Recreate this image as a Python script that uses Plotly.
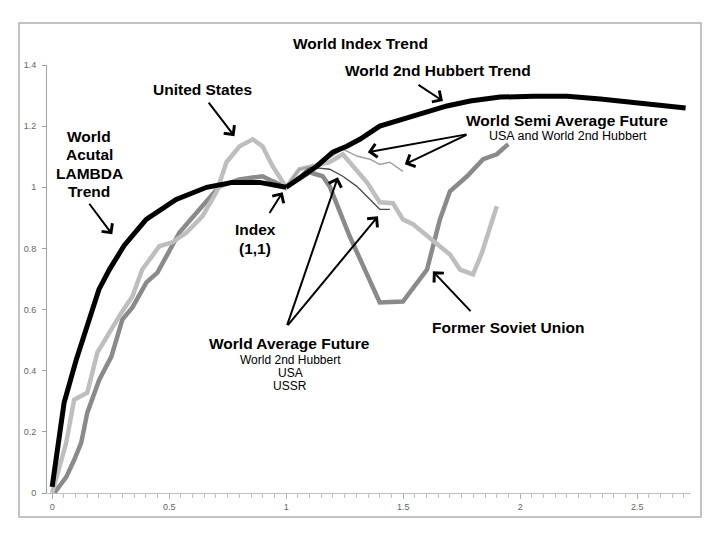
import plotly.graph_objects as go

# ---- data ----
lambda_x = [0.0, 0.051, 0.103, 0.15, 0.2, 0.244, 0.308, 0.402, 0.53, 0.66, 0.77, 0.886, 1.0]
lambda_y = [0.02, 0.295, 0.436, 0.545, 0.666, 0.73, 0.81, 0.895, 0.96, 1.0, 1.016, 1.016, 1.0]

hubbert_x = [1.0, 1.071, 1.131, 1.199, 1.259, 1.315, 1.40, 1.499, 1.60, 1.687, 1.786, 1.914,
             2.056, 2.201, 2.343, 2.458, 2.60, 2.707]
hubbert_y = [1.0, 1.036, 1.069, 1.115, 1.134, 1.157, 1.20, 1.223, 1.246, 1.266, 1.282, 1.295,
             1.298, 1.298, 1.289, 1.279, 1.266, 1.259]

usa_x = [0.0, 0.06, 0.094, 0.15, 0.193, 0.244, 0.296, 0.343, 0.385, 0.458, 0.514, 0.574, 0.642,
         0.702, 0.745, 0.801, 0.857, 0.899, 0.942, 1.0, 1.056, 1.113, 1.186, 1.242, 1.285, 1.345,
         1.40, 1.456, 1.499, 1.542, 1.585, 1.657, 1.70, 1.743, 1.799, 1.837, 1.88, 1.90]
usa_y = [0.0, 0.164, 0.305, 0.328, 0.459, 0.525, 0.59, 0.643, 0.731, 0.807, 0.82, 0.852, 0.905,
         0.984, 1.082, 1.134, 1.157, 1.134, 1.069, 1.0, 1.059, 1.069, 1.082, 1.108, 1.069, 1.016,
         0.951, 0.948, 0.895, 0.879, 0.852, 0.807, 0.78, 0.731, 0.715, 0.787, 0.885, 0.938]

ussr_x = [0.009, 0.06, 0.094, 0.124, 0.15, 0.201, 0.253, 0.30, 0.343, 0.403, 0.45, 0.544, 0.63,
          0.715, 0.80, 0.899, 0.942, 1.0, 1.10, 1.156, 1.186, 1.238, 1.272, 1.40, 1.499, 1.602,
          1.657, 1.70, 1.773, 1.842, 1.90, 1.949]
ussr_y = [0.0, 0.052, 0.108, 0.164, 0.262, 0.37, 0.446, 0.567, 0.607, 0.689, 0.721, 0.852, 0.928,
          1.003, 1.026, 1.036, 1.02, 1.0, 1.049, 1.036, 1.003, 0.905, 0.839, 0.623, 0.626, 0.731,
          0.895, 0.987, 1.036, 1.092, 1.108, 1.141]

avg_x = [1.0, 1.10, 1.186, 1.242, 1.302, 1.358, 1.40, 1.443]
avg_y = [1.0, 1.066, 1.059, 1.036, 1.003, 0.961, 0.928, 0.928]

semi_x = [1.0, 1.056, 1.143, 1.242, 1.302, 1.358, 1.40, 1.443, 1.499]
semi_y = [1.0, 1.059, 1.075, 1.125, 1.102, 1.092, 1.075, 1.082, 1.052]

y_ticks = [0, 0.2, 0.4, 0.6, 0.8, 1.0, 1.2, 1.4]
y_tick_labels = ["0", "0.2", "0.4", "0.6", "0.8", "1", "1.2", "1.4"]
x_ticks = [0, 0.5, 1.0, 1.5, 2.0, 2.5]
x_tick_labels = ["0", "0.5", "1", "1.5", "2", "2.5"]

# ---- figure ----
W, H = 720, 540
ML, MR, MT, MB = 47, 29, 65, 47
PW, PH = W - ML - MR, H - MT - MB

def px(xp):
    return (xp - ML) / PW

def py(yp):
    return (H - MB - yp) / PH

fig = go.Figure()
fig.add_trace(go.Scatter(x=ussr_x, y=ussr_y, mode="lines", name="Former Soviet Union",
                         line=dict(color="#8a8a8a", width=4.5)))
fig.add_trace(go.Scatter(x=usa_x, y=usa_y, mode="lines", name="United States",
                         line=dict(color="#bebebe", width=4.5)))
fig.add_trace(go.Scatter(x=avg_x, y=avg_y, mode="lines", name="World Average Future",
                         line=dict(color="#4a4a4a", width=1.3)))
fig.add_trace(go.Scatter(x=semi_x, y=semi_y, mode="lines", name="World Semi Average Future",
                         line=dict(color="#a0a0a0", width=1.5)))
fig.add_trace(go.Scatter(x=lambda_x, y=lambda_y, mode="lines", name="World Actual LAMBDA Trend",
                         line=dict(color="#000000", width=5)))
fig.add_trace(go.Scatter(x=hubbert_x, y=hubbert_y, mode="lines", name="World 2nd Hubbert Trend",
                         line=dict(color="#000000", width=5)))

FONT = "Liberation Sans, Arial, sans-serif"
texts = [
    ("World Index Trend", 360, 43, 15.5, True),
    ("World 2nd Hubbert Trend", 438, 71, 15.5, True),
    ("United States", 202, 89, 15.5, True),
    ("World", 89, 136, 15.5, True),
    ("Acutal", 89, 154.5, 15.5, True),
    ("LAMBDA", 89, 173, 15.5, True),
    ("Trend", 89, 191.5, 15.5, True),
    ("Index", 255, 229, 15.5, True),
    ("(1,1)", 255, 248, 15.5, True),
    ("World Semi Average Future", 567, 120, 15.5, True),
    ("USA and World 2nd Hubbert", 568, 136, 12.5, False),
    ("World Average Future", 289, 343, 15.5, True),
    ("World 2nd Hubbert", 290, 359.5, 12, False),
    ("USA", 290, 372.5, 12, False),
    ("USSR", 290, 385.5, 12, False),
    ("Former Soviet Union", 508, 327, 15.5, True),
]
annotations = []
for t, xx, yy, sz, bold in texts:
    annotations.append(dict(
        text=f"<b>{t}</b>" if bold else t, xref="paper", yref="paper",
        x=px(xx), y=py(yy), xanchor="center", yanchor="middle", showarrow=False,
        font=dict(family=FONT, size=sz, color="#000000")))

# arrows: (tail_x, tail_y, head_x, head_y) in data coordinates
arrows = [
    (1.559, 1.338, 1.670, 1.282),
    (0.664, 1.282, 0.779, 1.167),
    (0.154, 0.951, 0.257, 0.846),
    (0.925, 0.911, 0.985, 0.984),
    (1.777, 1.174, 1.349, 1.115),
    (1.777, 1.174, 1.507, 1.075),
    (1.002, 0.544, 1.221, 1.033),
    (1.002, 0.544, 1.392, 0.905),
    (1.794, 0.590, 1.627, 0.725),
]
for tx, ty, hx, hy in arrows:
    annotations.append(dict(
        text="", x=hx, y=hy, ax=tx, ay=ty, xref="x", yref="y", axref="x", ayref="y",
        showarrow=True, arrowhead=4, arrowsize=1.3, arrowwidth=2, arrowcolor="#000000",
        standoff=0, startstandoff=0))

fig.update_layout(
    width=W, height=H, autosize=False,
    margin=dict(l=ML, r=MR, t=MT, b=MB, pad=0),
    paper_bgcolor="#ffffff", plot_bgcolor="#ffffff",
    showlegend=False,
    annotations=annotations,
    shapes=[dict(type="rect", xref="paper", yref="paper",
                 x0=px(19), x1=px(701), y0=py(517), y1=py(23),
                 line=dict(color="#b0b0b0", width=1.5), fillcolor="rgba(0,0,0,0)", layer="below")],
    xaxis=dict(range=[-0.022, 2.73], tickvals=x_ticks, ticktext=x_tick_labels,
               showgrid=False, zeroline=False, showline=True, linecolor="#c0c0c0", linewidth=1,
               ticks="outside", ticklen=5, tickcolor="#b0b0b0", tickwidth=1,
               minor=dict(dtick=0.05, tick0=0, ticks="outside", ticklen=4, tickcolor="#c0c0c0", showgrid=False),
               tickfont=dict(family=FONT, size=9, color="#666666")),
    yaxis=dict(range=[0, 1.4], tickvals=y_ticks, ticktext=y_tick_labels,
               showgrid=False, zeroline=False, showline=True, linecolor="#a0a0a0", linewidth=1,
               ticks="outside", ticklen=4, tickcolor="#a0a0a0", tickwidth=1,
               tickfont=dict(family=FONT, size=9, color="#666666"), ticklabelstandoff=4),
)

fig.write_html("out.html", config={"displayModeBar": False},
               post_script="document.body.style.margin='0px';document.body.style.overflow='hidden';")
